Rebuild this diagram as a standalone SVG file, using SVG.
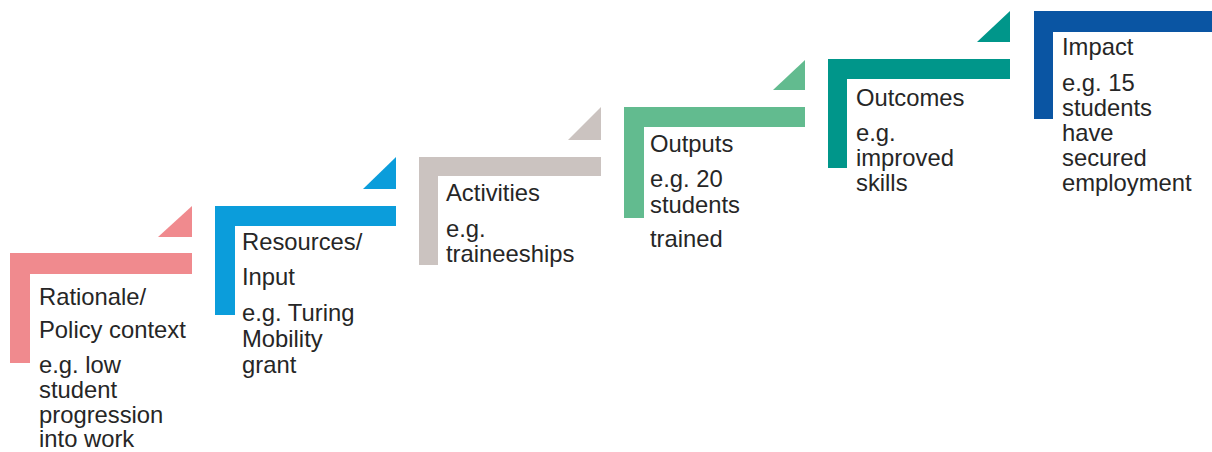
<svg xmlns="http://www.w3.org/2000/svg" width="1212" height="452" viewBox="0 0 1212 452">
<style>
text{font-family:"Liberation Sans",Arial,sans-serif;font-size:23.8px;fill:#262626}
.c1{fill:#F08A8E}.c2{fill:#0B9DDB}.c3{fill:#CBC3C0}.c4{fill:#62BB8F}.c5{fill:#00968A}.c6{fill:#0A55A3}
</style>
<rect width="1212" height="452" fill="#fff"/>
<g id="step-rationale">
<path class="c1" d="M10 253H192V274H30V363H10Z"/>
<path class="c1" d="M158 237L192 206V237Z"/>
<text x="39" y="305">Rationale/</text>
<text x="39" y="338">Policy context</text>
<text x="39" y="373">e.g. low</text>
<text x="39" y="398">student</text>
<text x="39" y="423">progression</text>
<text x="39" y="447">into work</text>
</g>
<g id="step-resources">
<path class="c2" d="M215 206H396V226H235V315H215Z"/>
<path class="c2" d="M363 189L396 157V189Z"/>
<text x="242" y="250">Resources/</text>
<text x="242" y="285">Input</text>
<text x="242" y="321">e.g. Turing</text>
<text x="242" y="347">Mobility</text>
<text x="242" y="373">grant</text>
</g>
<g id="step-activities">
<path class="c3" d="M419 157H601V176H438V265H419Z"/>
<path class="c3" d="M568 140L601 107V140Z"/>
<text x="446" y="201">Activities</text>
<text x="446" y="237">e.g.</text>
<text x="446" y="262">traineeships</text>
</g>
<g id="step-outputs">
<path class="c4" d="M624 107H805V127H644V218H624Z"/>
<path class="c4" d="M773 90L805 60V90Z"/>
<text x="650" y="152">Outputs</text>
<text x="650" y="187">e.g. 20</text>
<text x="650" y="213">students</text>
<text x="650" y="247">trained</text>
</g>
<g id="step-outcomes">
<path class="c5" d="M828 59H1010V79H847V168H828Z"/>
<path class="c5" d="M977 42L1010 11V42Z"/>
<text x="856" y="106">Outcomes</text>
<text x="856" y="141">e.g.</text>
<text x="856" y="166">improved</text>
<text x="856" y="191">skills</text>
</g>
<g id="step-impact">
<path class="c6" d="M1034 11H1212V32H1053V119H1034Z"/>
<text x="1062" y="55">Impact</text>
<text x="1062" y="91">e.g. 15</text>
<text x="1062" y="116">students</text>
<text x="1062" y="141">have</text>
<text x="1062" y="166">secured</text>
<text x="1062" y="191">employment</text>
</g>
<g id="connectors"></g>
</svg>
